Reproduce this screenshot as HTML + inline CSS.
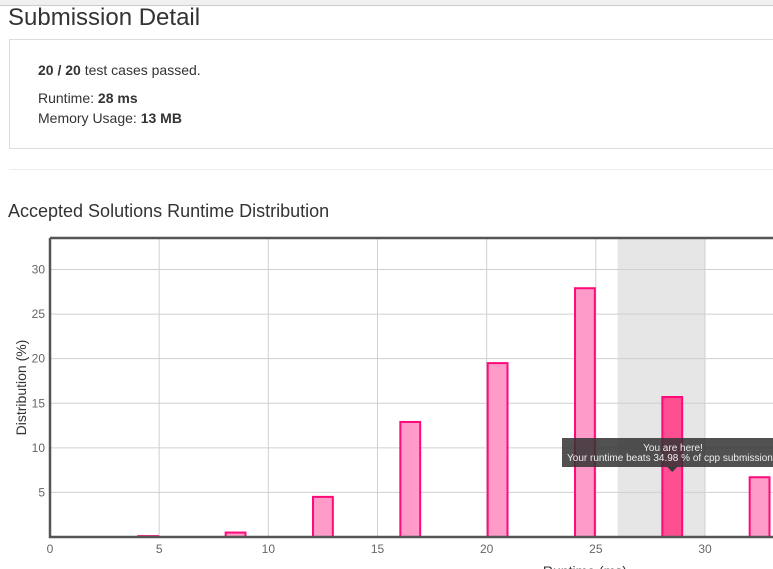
<!DOCTYPE html>
<html><head><meta charset="utf-8"><style>
body{margin:0;width:773px;height:569px;overflow:hidden;background:#fff;font-family:"Liberation Sans",sans-serif;color:#333;position:relative}
.abs{position:absolute}
</style></head><body>
<div class="abs" style="left:0;top:0;width:773px;height:5px;background:#f0f0f0;border-bottom:1px solid #ccc"></div>
<div class="abs" style="left:8px;top:4px;font-size:24px;color:#333">Submission Detail</div>
<div class="abs" style="left:9px;top:39px;width:780px;height:108px;border:1px solid #ddd;font-size:14px">
  <div class="abs" style="left:28px;top:22px"><b>20 / 20</b> test cases passed.</div>
  <div class="abs" style="left:28px;top:50px">Runtime: <b>28 ms</b></div>
  <div class="abs" style="left:28px;top:70px">Memory Usage: <b>13 MB</b></div>
</div>
<div class="abs" style="left:9px;top:169px;width:764px;height:1px;background:#eee"></div>
<div class="abs" style="left:8px;top:201px;font-size:18px;color:#333">Accepted Solutions Runtime Distribution</div>
<svg class="abs" style="left:0;top:0" width="773" height="569" id="chart"></svg>
<script>
const starts=[4,8,12,16,20,24,28,32];
const values=[0.1,0.5,4.5,12.9,19.5,27.9,15.7,6.7];
const xTicks=[0,5,10,15,20,25,30];
const yTicks=[5,10,15,20,25,30];
const highlight=[26,30];
const mine=28;
const NS="http://www.w3.org/2000/svg";
const svg=document.getElementById('chart');
const L=50,T=238,B=537;
const x=v=>L+v*(655/30);
const y=v=>B-v*(267.5/30);
function mk(tag,attrs,parent){const e=document.createElementNS(NS,tag);for(const k in attrs)e.setAttribute(k,attrs[k]);(parent||svg).appendChild(e);return e;}
let r=mk('rect',{x:x(highlight[0]),y:T,width:x(highlight[1])-x(highlight[0]),height:B-T,fill:'#e6e6e6'});


xTicks.forEach(t=>{
  let g=mk('line',{x1:x(t),x2:x(t),y1:T,y2:B,stroke:'#d0d0d0'});
  
  
  let tx=mk('text',{x:x(t),y:553,'text-anchor':'middle','font-size':12,fill:'#666'});tx.textContent=t;
  
  
});
yTicks.forEach(t=>{
  let g=mk('line',{x1:L,x2:773,y1:y(t),y2:y(t),stroke:'#d0d0d0'});
  
  
  let tx=mk('text',{x:45,y:y(t)+4,'text-anchor':'end','font-size':12,fill:'#666'});tx.textContent=t;
  
  
});
starts.forEach((s,i)=>{
  const sel=(mine>=s&&mine<s+1);
  let b=mk('rect',{x:x(s)+1,y:y(values[i]),width:x(s+1)-x(s)-2,height:B-y(values[i]),fill:sel?'#ff4f93':'#ff9bc8',stroke:'#ff0a78','stroke-width':2});
  
  
});
let ax=mk('path',{d:`M${L},${T} H773 M${L},${T} V${B} H773`,stroke:'#555','stroke-width':2.5,fill:'none'});


let yt=mk('text',{x:0,y:0,transform:`translate(26,${(T+B)/2}) rotate(-90)`,'text-anchor':'middle','font-size':14,fill:'#333'});yt.textContent='Distribution (%)';


let xt=mk('text',{x:x(24.5),y:576,'text-anchor':'middle','font-size':14,fill:'#333'});xt.textContent='Runtime (ms)';


let tb=mk('rect',{x:562,y:438,width:215,height:29,fill:'rgba(50,50,50,0.85)'});


let tp=mk('path',{d:`M${x(mine+0.5)-5},467 L${x(mine+0.5)+5},467 L${x(mine+0.5)},472 Z`,fill:'#3a3a3a'});


let t1=mk('text',{x:673,y:451,'text-anchor':'middle','font-size':10,fill:'#eee'});t1.textContent='You are here!';


let t2=mk('text',{x:567,y:461,'font-size':10,fill:'#eee'});t2.textContent='Your runtime beats 34.98 % of cpp submissions';


</script>
</body></html>
